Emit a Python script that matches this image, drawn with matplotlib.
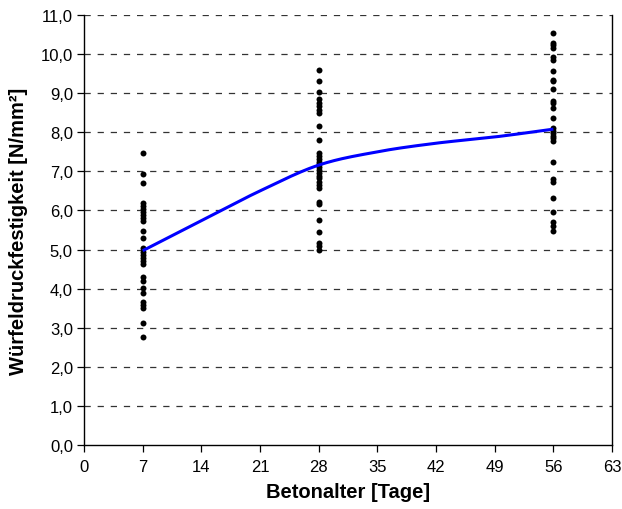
import numpy as np
import matplotlib
matplotlib.use("Agg")
import matplotlib.pyplot as plt
from matplotlib.ticker import FuncFormatter

plt.rcParams['font.family'] = ['Liberation Sans', 'DejaVu Sans']

# Data
age_7 = [7.46, 6.93, 6.69, 6.20, 6.12, 6.04, 5.96, 5.88, 5.80, 5.72, 5.47, 5.30,
         5.03, 4.95, 4.87, 4.78, 4.70, 4.62, 4.31, 4.20, 4.01, 3.90, 3.66, 3.59,
         3.50, 3.13, 2.76]
age_28 = [9.60, 9.32, 9.04, 8.85, 8.76, 8.67, 8.58, 8.50, 8.17, 7.81, 7.46, 7.39,
          7.32, 7.25, 7.18, 7.10, 7.03, 6.96, 6.89, 6.82, 6.74, 6.66, 6.58, 6.22,
          6.16, 5.76, 5.44, 5.16, 5.08, 4.98]
age_56 = [10.54, 10.28, 10.22, 10.15, 9.92, 9.86, 9.58, 9.35, 9.30, 9.11, 8.81,
          8.74, 8.61, 8.37, 8.12, 8.04, 7.98, 7.91, 7.85, 7.78, 7.23, 6.80, 6.72,
          6.32, 5.97, 5.70, 5.61, 5.48]

curve_x = [7, 14, 21, 28, 35, 42, 49, 56]
curve_y = [4.97, 5.74, 6.50, 7.16, 7.50, 7.72, 7.88, 8.08]

x_ticks = [0, 7, 14, 21, 28, 35, 42, 49, 56, 63]
y_ticks = [0, 1, 2, 3, 4, 5, 6, 7, 8, 9, 10, 11]


def smooth(xs, ys, n=30):
    xs = np.asarray(xs, float); ys = np.asarray(ys, float)
    m = np.gradient(ys, xs)
    ox, oy = [], []
    for i in range(len(xs) - 1):
        h = xs[i + 1] - xs[i]
        t = np.linspace(0, 1, n, endpoint=(i == len(xs) - 2))
        h00 = 2*t**3 - 3*t**2 + 1; h10 = t**3 - 2*t**2 + t
        h01 = -2*t**3 + 3*t**2; h11 = t**3 - t**2
        ox.append(xs[i] + t*h)
        oy.append(h00*ys[i] + h10*h*m[i] + h01*ys[i+1] + h11*h*m[i+1])
    return np.concatenate(ox), np.concatenate(oy)


fig = plt.figure(figsize=(6.22, 5.10), dpi=100)
ax = fig.add_axes([84/622, 64/510, 528/622, 430/510])

for yv in y_ticks[1:]:
    ax.axhline(yv, color='#333333', lw=0.9, ls=(0, (5, 5.5)), zorder=1)

for xv, vals in ((7, age_7), (28, age_28), (56, age_56)):
    ax.plot([xv]*len(vals), vals, 'o', color='black', ms=4.3, mec='none', zorder=3)

sx, sy = smooth(curve_x, curve_y)
ax.plot(sx, sy, color='#0000FF', lw=2.2, zorder=4, solid_capstyle='butt')

ax.set_xlim(0, 63)
ax.set_ylim(0, 11)
ax.set_xticks(x_ticks)
ax.set_yticks(y_ticks)
ax.yaxis.set_major_formatter(FuncFormatter(lambda v, p: f"{v:.1f}".replace('.', ',')))
ax.tick_params(direction='out', length=5, width=0.9, labelsize=12, colors='black', pad=3)
ax.tick_params(axis='x', pad=5)
ax.spines['top'].set_visible(False)
for s in ('left', 'bottom', 'right'):
    ax.spines[s].set_linewidth(1.0)
    ax.spines[s].set_color('black')

ax.set_xlabel('Betonalter [Tage]', fontsize=14.5, fontweight='bold', labelpad=6)
ax.set_ylabel('Würfeldruckfestigkeit [N/mm²]', fontsize=14.5, fontweight='bold', labelpad=9)

fig.savefig('out.png', dpi=100)
